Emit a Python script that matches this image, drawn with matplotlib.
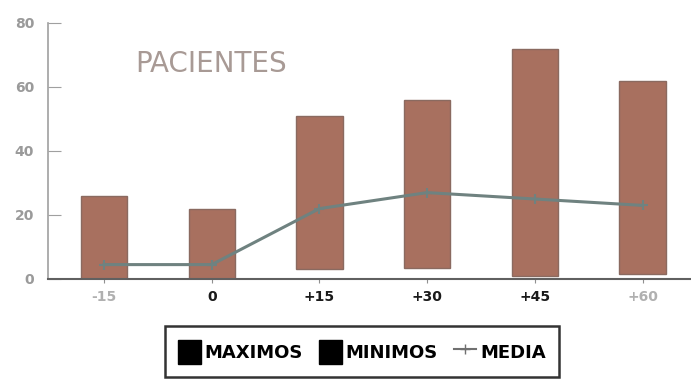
import matplotlib
matplotlib.use("Agg")
import matplotlib.pyplot as plt
from matplotlib.patches import Patch
from matplotlib.lines import Line2D
import numpy as np

categories = ["-15", "0", "+15", "+30", "+45", "+60"]
maximos = [26, 22, 51, 56, 72, 62]
minimos = [0, 0, 3, 3.5, 1, 1.5]
media = [4.5, 4.5, 22, 27, 25, 23]
bold_labels = [False, True, True, True, True, False]

plt.rcParams['font.family'] = ['DejaVu Sans']

fig = plt.figure(figsize=(6.91, 3.82), dpi=100)
ax = fig.add_axes([48/691, 103/382, 1 - 48/691, 256/382])

x = np.arange(len(categories))
heights = [mx - mn for mx, mn in zip(maximos, minimos)]
ax.bar(x, heights, bottom=minimos, width=0.43, color="#a8705f",
       edgecolor="#8a6a60", linewidth=1.0, zorder=2)
ax.plot(x, media, color="#6f8280", linewidth=2.2, marker="+", markersize=7,
        markeredgewidth=1.5, zorder=3)

ax.set_xlim(-0.52, 5.45)
ax.set_ylim(0, 80)
ax.set_yticks([0, 20, 40, 60, 80])
ax.set_yticklabels(["0", "20", "40", "60", "80"], color="#9a9a9a", fontsize=10,
                   fontweight="bold")
ax.set_xticks(x)
ax.set_xticklabels(categories)
for lbl, b in zip(ax.get_xticklabels(), bold_labels):
    lbl.set_fontweight("bold")
    lbl.set_color("#1a1a1a" if b else "#b0b0b0")
    lbl.set_fontsize(10)

for s in ["top", "right"]:
    ax.spines[s].set_visible(False)
ax.spines["left"].set_color("#a0a0a0")
ax.spines["left"].set_linewidth(1.2)
ax.spines["bottom"].set_color("#606060")
ax.spines["bottom"].set_linewidth(1.5)
ax.tick_params(axis="y", direction="in", length=9, color="#a0a0a0", pad=10)
ax.tick_params(axis="x", direction="out", length=3, color="#909090", pad=5)

ax.text(0.135, 0.84, "PACIENTES", transform=ax.transAxes, fontsize=20,
        color="#a89a95", ha="left", va="center")

handles = [Patch(facecolor="black", edgecolor="black", label="MAXIMOS"),
           Patch(facecolor="black", edgecolor="black", label="MINIMOS"),
           Line2D([0], [0], color="#707070", marker="+", markersize=7, linewidth=1.5, label="MEDIA")]
leg = fig.legend(handles=handles, loc="upper center", bbox_to_anchor=(362/691, 1 - 326/382),
                 ncol=3, frameon=True, fancybox=False, edgecolor="black",
                 prop={"weight": "bold", "size": 13}, handlelength=1.25, handleheight=1.7,
                 handletextpad=0.2, columnspacing=0.9, borderpad=0.75, borderaxespad=0)
leg.get_frame().set_linewidth(1.8)

fig.savefig("out.png", dpi=100)
